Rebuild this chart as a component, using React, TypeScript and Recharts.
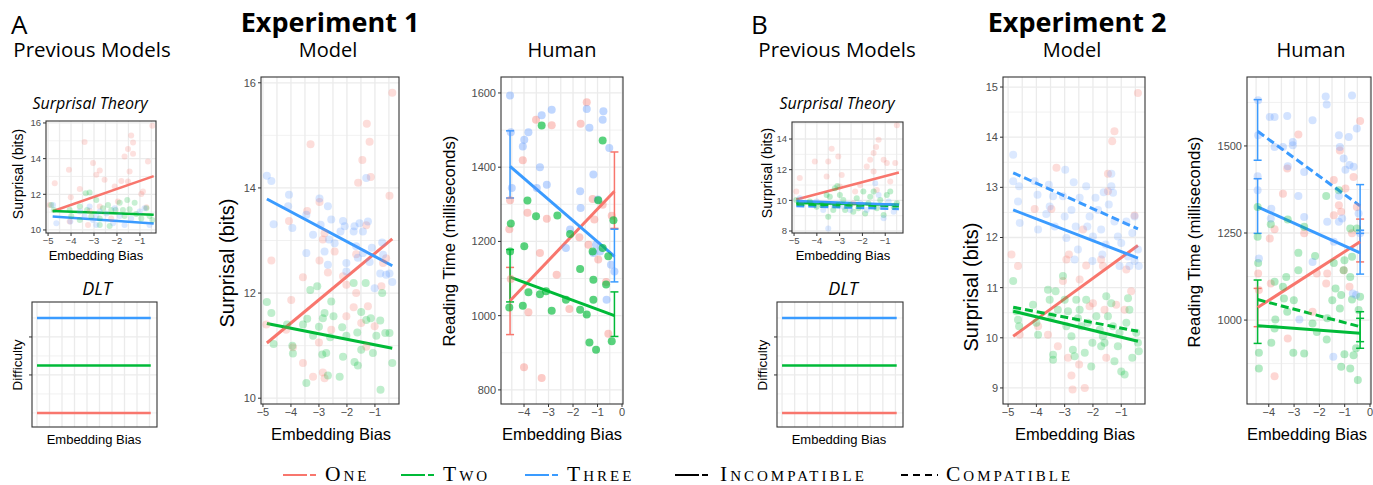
import React from 'react';
import { ComposedChart, Scatter, Line, XAxis, YAxis, CartesianGrid, ErrorBar } from 'recharts';

type Pt = [number, number];
type Bar = [number, number, number]; // x, low, high

const RED = '#F8766D';
const GREEN = '#00BA38';
const BLUE = '#619CFF';
const BLUE_LINE = '#3A9BFF';

// ---------- A: previous models, surprisal theory
const prevAOne: Pt[] = [[-0.46,15.85],[-1.38,15.29],[-1.3,14.91],[-1.52,14.54],[-3.41,14.93],[-1.3,14.27],[-1.67,14.12],[-0.65,13.84],[-4.09,13.37],[-3.04,13.75],[-2.75,13.34],[-2.9,13.09],[-2.54,12.81],[-1.45,13.28],[-4.71,12.62],[-3.62,12.3],[-2.1,12.44],[-1.81,12.75],[-1.52,12.72],[-0.87,12.15],[-0.94,12.02],[-4.01,11.84],[-1.96,11.59],[-2.75,11.31],[-4.93,11.4],[-3.26,10.28],[-2.25,10.65],[-4.06,10.47],[-3.19,11.08],[-0.72,11.27]];
const prevATwo: Pt[] = [[-4.86,11.4],[-4.75,11.12],[-4.06,11.12],[-3.99,10.78],[-3.36,12.06],[-3.19,12.1],[-3.3,11.12],[-3.12,10.75],[-2.9,11.68],[-2.75,10.65],[-2.61,11.22],[-2.32,10.22],[-2.39,11.4],[-2.25,11.12],[-2.06,11.12],[-1.88,11.53],[-1.74,11.12],[-1.67,10.78],[-1.55,11.68],[-1.45,11.16],[-1.23,11.53],[-1.16,10.9],[-0.94,10.65],[-0.72,11.22],[-0.58,10.78],[-0.46,10.56],[-3.62,11.31],[-2.75,10.28],[-3.62,10.56]];
const prevAThree: Pt[] = [[-4.78,11.4],[-4.64,10.37],[-4.03,10.47],[-3.62,11.03],[-3.41,10.75],[-3.19,11.31],[-3.04,10.56],[-2.9,10.28],[-2.75,11.03],[-2.46,10.93],[-2.17,10.37],[-1.88,10.78],[-1.67,10.28],[-1.38,10.65],[-1.01,11.03],[-0.8,11.22],[-0.58,10.28],[-2.9,10.78],[-2.1,11.22]];
const prevAFitOne: Pt[] = [[-4.8,11.05],[-0.4,13.02]];
const prevAFitTwo: Pt[] = [[-4.8,11.07],[-0.4,10.86]];
const prevAFitThree: Pt[] = [[-4.8,10.76],[-0.4,10.36]];

// ---------- B: previous models, surprisal theory
const prevBOne: Pt[] = [[-0.49,14.9],[-1.29,13.96],[-1.4,13.48],[-1.51,13.08],[-1.66,12.65],[-3.35,13.37],[-1.51,11.88],[-4.09,12.54],[-3.5,12.54],[-3.06,12.86],[-4.75,11.45],[-2.91,11.66],[-1.81,12.21],[-1.07,12.65],[-0.93,12.43],[-0.56,12.43],[-0.78,11.23],[-4.9,10.57],[-2.32,10.57],[-2.1,11.0],[-1.37,10.68],[-2.99,10.9],[-3.57,11.55],[-2.4,9.81]];
const prevBTwo: Pt[] = [[-4.9,10.03],[-4.31,9.92],[-4.01,9.59],[-3.57,10.35],[-3.43,10.24],[-3.21,10.79],[-3.1,10.94],[-2.99,10.35],[-3.28,9.37],[-3.5,8.93],[-2.84,10.03],[-2.76,9.37],[-2.54,9.7],[-2.25,10.14],[-2.18,9.48],[-1.96,10.57],[-1.88,9.15],[-1.74,9.81],[-1.66,10.24],[-1.51,10.57],[-1.37,9.48],[-1.22,10.03],[-1.07,9.04],[-0.93,10.35],[-0.78,10.57],[-0.63,9.59],[-0.49,9.81],[-2.4,9.26],[-3.06,9.7],[-3.79,9.7]];
const prevBThree: Pt[] = [[-4.75,10.14],[-4.68,9.81],[-4.01,9.92],[-3.5,8.17],[-3.28,9.7],[-2.84,9.59],[-2.54,9.37],[-2.1,9.81],[-1.81,9.37],[-1.44,11.12],[-1.29,10.35],[-1.15,9.59],[-0.85,9.92],[-0.63,9.26],[-1.07,8.83],[-3.72,9.37]];
const prevBFitOne: Pt[] = [[-4.9,10.05],[-0.4,11.82]];
const prevBFitTwo: Pt[] = [[-4.9,9.82],[-0.4,9.72]];
const prevBFitTwoC: Pt[] = [[-4.9,9.74],[-0.4,9.62]];
const prevBFitThree: Pt[] = [[-4.9,9.95],[-0.4,9.72]];
const prevBFitThreeC: Pt[] = [[-4.9,9.63],[-0.4,9.44]];

// ---------- DLT (difficulty levels)
const dltOne: Pt[] = [[-5,0],[-0.45,0]];
const dltTwo: Pt[] = [[-5,2.5],[-0.45,2.5]];
const dltThree: Pt[] = [[-5,5],[-0.45,5]];

// ---------- Experiment 1, model
const e1mOne: Pt[] = [[-0.38,15.81],[-1.29,15.22],[-1.19,14.88],[-3.3,14.83],[-1.45,14.53],[-1.15,14.21],[-1.6,14.1],[-0.48,13.85],[-3.42,13.56],[-4.07,13.37],[-2.98,13.73],[-1.31,13.29],[-2.86,13.02],[-2.8,13.14],[-2.44,12.79],[-4.7,12.62],[-2.68,12.39],[-3.57,12.3],[-1.67,12.74],[-0.6,12.66],[-0.71,12.57],[-2.98,12.62],[-2.14,12.32],[-3.99,11.87],[-1.76,11.73],[-1.25,11.75],[-2.02,12.16],[-0.77,12.13],[-1.67,12.0],[-2.02,11.56],[-4.88,11.4],[-4.17,11.3],[-1.49,11.43],[-2.56,11.3],[-1.01,11.37],[-3.93,10.97],[-3.0,11.06],[-1.31,10.98],[-3.57,10.67],[-2.86,10.49],[-3.21,10.41],[-2.8,10.38]];
const e1mTwo: Pt[] = [[-4.86,11.83],[-4.7,11.62],[-4.62,11.03],[-4.14,11.4],[-3.95,11.0],[-3.93,10.85],[-3.45,10.29],[-3.42,11.51],[-3.31,12.06],[-3.57,11.4],[-3.06,12.13],[-3.0,11.36],[-3.21,11.19],[-2.86,11.52],[-2.8,11.62],[-2.88,10.83],[-2.74,10.86],[-2.68,10.43],[-2.6,11.16],[-2.56,11.84],[-2.48,11.56],[-2.26,10.41],[-2.17,11.35],[-2.02,11.19],[-1.76,12.19],[-1.73,10.69],[-1.61,10.62],[-1.63,11.25],[-1.49,10.92],[-1.33,12.19],[-1.49,11.64],[-1.31,11.49],[-1.15,11.52],[-1.07,10.86],[-0.95,11.19],[-0.81,11.48],[-0.74,12.0],[-0.8,10.16],[-0.63,11.24],[-0.48,11.24],[-0.38,10.67],[-2.14,10.79]];
const e1mThree: Pt[] = [[-4.86,14.23],[-4.7,14.13],[-4.62,13.31],[-4.07,13.87],[-4.1,13.65],[-3.95,13.24],[-3.45,13.49],[-3.45,12.76],[-3.21,13.11],[-2.98,13.8],[-2.94,13.3],[-2.68,13.65],[-2.8,12.79],[-2.64,13.02],[-2.56,13.4],[-2.44,12.95],[-2.68,12.54],[-2.23,13.17],[-2.14,13.37],[-2.08,13.27],[-2.02,12.57],[-2.02,12.41],[-1.76,13.17],[-1.73,13.27],[-1.67,12.89],[-1.61,12.67],[-1.55,13.33],[-1.43,13.17],[-1.43,12.76],[-1.31,14.19],[-1.25,13.36],[-1.19,12.59],[-1.11,12.86],[-1.01,12.09],[-0.81,12.37],[-0.74,12.96],[-0.6,12.35],[-0.48,12.37],[-0.38,12.21],[-0.71,12.73]];
const e1mFitOne: Pt[] = [[-4.86,11.05],[-0.38,13.03]];
const e1mFitTwo: Pt[] = [[-4.86,11.42],[-0.38,10.95]];
const e1mFitThree: Pt[] = [[-4.86,13.79],[-0.38,12.52]];

// ---------- Experiment 1, human
const e1hOne: Pt[] = [[-4.6,1233],[-4.57,1311],[-4.54,1099],[-4.05,1419],[-3.86,1277],[-4.0,861],[-3.82,1009],[-3.51,1528],[-3.35,1169],[-3.28,832],[-3.07,1261],[-2.87,1513],[-2.67,1110],[-2.15,1018],[-1.74,1211],[-1.69,1517],[-1.44,1575],[-1.37,1191],[-1.2,1314],[-1.13,1259],[-0.97,1151],[-0.79,1299],[-0.65,1091],[-0.56,951],[-0.42,1269]];
const e1hTwo: Pt[] = [[-4.54,1248],[-4.57,1173],[-4.6,1022],[-4.05,1027],[-3.99,1187],[-3.86,1310],[-3.82,1063],[-3.51,1268],[-3.35,1058],[-3.28,1512],[-3.1,1066],[-2.87,1013],[-2.64,1270],[-2.29,1043],[-2.12,1220],[-1.71,1126],[-1.71,1016],[-1.44,1003],[-1.33,928],[-1.2,1173],[-1.17,1097],[-1.17,1043],[-1.06,908],[-0.97,1311],[-0.79,1472],[-0.79,1182],[-0.56,1160],[-0.65,1084],[-0.42,931],[-0.35,1257]];
const e1hThree: Pt[] = [[-4.57,1593],[-4.54,1494],[-4.5,1344],[-4.05,1456],[-3.99,1474],[-3.82,1494],[-3.35,1400],[-3.28,1540],[-2.87,1555],[-3.07,1353],[-3.48,1344],[-2.12,1232],[-2.29,1182],[-1.71,1335],[-1.69,1290],[-1.44,1557],[-1.33,1506],[-1.17,1380],[-1.17,1169],[-0.99,1313],[-1.06,1191],[-0.76,1551],[-0.79,1528],[-0.52,1452],[-0.63,1043],[-0.45,1137],[-0.31,1119],[-0.9,1173]];
const e1hFitOne: Pt[] = [[-4.57,1040],[-0.31,1335]];
const e1hFitTwo: Pt[] = [[-4.57,1104],[-0.31,1000]];
const e1hFitThree: Pt[] = [[-4.57,1402],[-0.31,1160]];
const e1hBarsOne: Bar[] = [[-4.57,949,1130],[-0.31,1235,1441]];
const e1hBarsTwo: Bar[] = [[-4.57,1037,1178],[-0.31,944,1064]];
const e1hBarsThree: Bar[] = [[-4.57,1317,1498],[-0.31,1091,1233]];

// ---------- Experiment 2, model
const e2mOne: Pt[] = [[-0.41,14.88],[-1.24,14.12],[-1.32,13.92],[-3.29,13.39],[-1.47,13.27],[-4.06,12.57],[-3.47,12.57],[-0.53,12.44],[-1.47,12.92],[-2.35,12.16],[-2.85,11.66],[-2.94,11.56],[-2.24,11.44],[-1.71,11.56],[-1.65,11.43],[-0.82,11.36],[-4.65,11.43],[-2.47,11.16],[-0.65,10.93],[-3.06,11.13],[-3.59,10.06],[-3.94,10.23],[-1.18,10.66],[-1.59,10.56],[-2.12,10.63],[-2.0,10.69],[-3.24,9.83],[-2.88,9.6],[-2.49,9.47],[-2.76,9.25],[-2.72,8.97],[-2.29,9.0],[-1.53,9.6],[-0.88,10.56],[-4.88,11.66],[-4.59,10.06]];
const e2mTwo: Pt[] = [[-4.82,11.13],[-4.71,10.53],[-4.65,10.36],[-4.61,10.23],[-4.12,10.66],[-4.0,10.3],[-3.94,10.06],[-3.59,10.96],[-3.53,10.76],[-3.47,10.43],[-3.41,9.66],[-3.41,9.56],[-3.32,10.93],[-3.24,10.56],[-3.06,11.23],[-3.0,10.76],[-2.94,10.23],[-2.88,10.53],[-2.76,10.03],[-2.71,9.76],[-2.65,9.63],[-2.59,10.76],[-2.53,10.39],[-2.47,10.56],[-2.29,9.7],[-2.24,10.76],[-2.18,10.3],[-2.06,9.43],[-2.02,9.9],[-1.88,10.43],[-1.76,10.16],[-1.71,9.83],[-1.65,10.03],[-1.59,9.9],[-1.53,10.83],[-1.47,10.43],[-1.35,10.69],[-1.29,10.23],[-1.24,9.53],[-1.12,9.83],[-1.06,10.1],[-1.0,9.33],[-0.88,9.27],[-0.82,10.3],[-0.76,10.79],[-0.71,10.56],[-0.61,9.6],[-0.47,10.1],[-0.41,9.9],[-0.38,9.73],[-2.41,10.23]];
const e2mThree: Pt[] = [[-4.82,13.65],[-4.82,13.12],[-4.65,12.72],[-4.59,12.29],[-4.61,13.02],[-4.06,13.12],[-3.96,12.85],[-3.94,12.16],[-3.56,13.05],[-3.65,12.47],[-3.41,12.82],[-3.35,12.22],[-2.98,13.35],[-3.06,12.82],[-3.0,12.42],[-2.94,11.99],[-2.76,12.55],[-2.68,13.1],[-2.61,12.22],[-2.53,11.76],[-2.65,11.56],[-2.47,12.79],[-2.24,13.02],[-2.2,12.22],[-2.12,12.42],[-2.02,11.53],[-2.0,12.02],[-1.91,12.79],[-1.82,12.55],[-1.71,12.16],[-1.67,11.66],[-1.55,11.86],[-1.44,12.66],[-1.35,13.27],[-1.35,13.02],[-1.29,12.89],[-1.24,12.32],[-1.12,12.02],[-1.06,11.43],[-1.0,11.89],[-0.82,12.32],[-0.76,11.62],[-0.61,12.09],[-0.53,11.53],[-0.41,11.76],[-0.38,11.43],[-0.53,12.42],[-0.71,11.43],[-1.62,12.9],[-3.53,12.62]];
const e2mFitOne: Pt[] = [[-4.82,10.03],[-0.41,11.84]];
const e2mFitTwo: Pt[] = [[-4.82,10.53],[-0.41,9.93]];
const e2mFitTwoC: Pt[] = [[-4.82,10.61],[-0.41,10.13]];
const e2mFitThree: Pt[] = [[-4.82,12.55],[-0.41,11.59]];
const e2mFitThreeC: Pt[] = [[-4.82,13.29],[-0.41,12.17]];

// ---------- Experiment 2, human
const e2hOne: Pt[] = [[-4.42,1134],[-4.39,1086],[-3.96,1234],[-3.92,1105],[-3.77,1261],[-3.77,839],[-3.44,1363],[-3.27,1435],[-3.25,947],[-2.83,1533],[-2.6,1249],[-2.27,1024],[-2.1,1134],[-1.73,1105],[-1.69,1134],[-1.43,1402],[-1.43,1301],[-1.23,1330],[-1.19,1487],[-1.14,1311],[-1.04,1143],[-0.97,1378],[-0.81,1096],[-0.71,1249],[-0.65,1411],[-0.52,1325],[-0.39,1572]];
const e2hTwo: Pt[] = [[-4.44,1325],[-4.44,1239],[-4.42,1164],[-4.39,906],[-4.39,861],[-3.92,1275],[-3.9,935],[-3.77,1110],[-3.74,1002],[-3.77,976],[-3.44,1096],[-3.4,1062],[-3.31,1124],[-3.25,1289],[-3.27,1024],[-3.01,1057],[-3.03,906],[-2.83,1143],[-2.83,1193],[-2.6,904],[-2.6,1268],[-2.27,990],[-2.17,1184],[-2.1,966],[-1.73,1356],[-1.71,944],[-1.69,1005],[-1.49,1057],[-1.43,1164],[-1.36,1091],[-1.23,1373],[-1.19,1033],[-1.14,1072],[-1.14,866],[-1.04,1143],[-1.01,902],[-1.01,1172],[-0.78,1124],[-0.78,1263],[-0.71,1059],[-0.78,861],[-0.71,1182],[-0.65,899],[-0.55,919],[-0.48,828],[-0.39,1067],[-0.45,1029],[-0.52,1263]];
const e2hThree: Pt[] = [[-4.42,1631],[-4.42,1531],[-4.44,1413],[-4.44,1373],[-4.39,1177],[-3.96,1583],[-3.77,1583],[-3.77,1497],[-3.9,1320],[-3.92,1292],[-3.44,1497],[-3.27,1586],[-3.25,1442],[-3.05,1502],[-3.05,1511],[-2.83,1356],[-2.79,1002],[-2.6,1296],[-2.6,1425],[-2.27,1574],[-2.27,1167],[-1.75,1642],[-1.71,1619],[-1.69,1282],[-1.45,895],[-1.23,1531],[-1.19,1497],[-1.23,1356],[-1.23,1282],[-1.1,1292],[-1.04,1464],[-0.97,1432],[-0.84,1526],[-0.81,1445],[-0.71,1645],[-0.65,1440],[-0.68,1076],[-0.55,1072],[-0.52,1550],[-0.45,1306],[-0.39,1249],[-1.43,1225]];
const e2hFitOne: Pt[] = [[-4.44,1036],[-0.39,1225]];
const e2hFitTwo: Pt[] = [[-4.44,984],[-0.39,962]];
const e2hFitTwoC: Pt[] = [[-4.44,1059],[-0.39,981]];
const e2hFitThree: Pt[] = [[-4.44,1325],[-0.39,1193]];
const e2hFitThreeC: Pt[] = [[-4.44,1542],[-0.39,1328]];
const e2hBarsOne: Bar[] = [[-4.44,981,1091],[-0.39,1167,1290]];
const e2hBarsTwo: Bar[] = [[-4.44,933,1115],[-0.39,919,1024],[-0.39,938,1005]];
const e2hBarsThree: Bar[] = [[-4.44,1459,1633],[-4.44,1249,1406],[-0.39,1132,1389],[-0.39,1249,1258]];

// ---------- axis ticks / grid values
const ticksM5toM1 = [-5, -4, -3, -2, -1];
const ticksM4to0 = [-4, -3, -2, -1, 0];
const halfSteps = [-5, -4.5, -4, -3.5, -3, -2.5, -2, -1.5, -1, -0.5, 0];

const legendItems = [
  { label: 'One', color: RED, dashed: false },
  { label: 'Two', color: GREEN, dashed: false },
  { label: 'Three', color: BLUE_LINE, dashed: false },
  { label: 'Incompatible', color: '#000', dashed: false },
  { label: 'Compatible', color: '#000', dashed: true },
];

const fmt = (v: number) => (v < 0 ? '\u2212' + Math.abs(v) : String(v));
const toObj = (p: Pt[]) => p.map(([x, y]) => ({ x, y }));
const toBars = (b: Bar[]) => b.map(([x, lo, hi]) => ({ x, y: (lo + hi) / 2, err: [(hi - lo) / 2, (hi - lo) / 2] }));

interface Series { pts: Pt[]; color: string; op: number }
interface Fit { pts: Pt[]; color: string; dash?: boolean }
interface Bars { pts: Bar[]; color: string }
interface PanelProps {
  x: number; y: number; w: number; h: number;
  xDomain: [number, number]; yDomain: [number, number];
  xTicks: number[]; yTicks: number[]; yMinor: number[];
  series: Series[]; fits: Fit[]; bars?: Bars[];
  fs: number; r: number; lw: number; noLabels?: boolean;
}

const scalePx = (axis: any, v: number, start: number, size: number, d: [number, number], invert: boolean) => {
  const s = axis && axis.scale;
  if (typeof s === 'function') return s(v);
  if (s && typeof s.map === 'function') return s.map(v);
  const t = (v - d[0]) / (d[1] - d[0]);
  return invert ? start + size * (1 - t) : start + size * t;
};

function Panel(p: PanelProps) {
  const PAD = 8, YW = 40, XH = 24;
  const W = p.w + YW + PAD;
  const H = p.h + PAD + XH;
  const xGrid = halfSteps.filter(v => v > p.xDomain[0] && v < p.xDomain[1]);
  const yMajor = p.yTicks.filter(v => v > p.yDomain[0] && v < p.yDomain[1]);
  const tick = { fontSize: p.fs, fill: '#4D4D4D', fontFamily: 'Liberation Sans, Arial, sans-serif' };
  const vGen = ({ xAxis, offset }: any) =>
    xGrid.map(v => scalePx(xAxis, v, offset.left, offset.width, p.xDomain, false));
  const hGen = (vals: number[]) => ({ yAxis, offset }: any) =>
    vals.map(v => scalePx(yAxis, v, offset.top, offset.height, p.yDomain, true));
  return (
    <div style={{ position: 'absolute', left: p.x - YW, top: p.y - PAD, width: W, height: H }}>
      <ComposedChart width={W} height={H} margin={{ top: PAD, right: PAD, bottom: 0, left: 0 }}>
        <CartesianGrid stroke="#EBEBEB" strokeWidth={0.7} vertical={false} horizontalCoordinatesGenerator={hGen(p.yMinor)} />
        <CartesianGrid stroke="#EBEBEB" strokeWidth={1.3} verticalCoordinatesGenerator={vGen} horizontalCoordinatesGenerator={hGen(yMajor)} />
        <XAxis type="number" dataKey="x" domain={p.xDomain} allowDataOverflow ticks={p.noLabels ? [] : p.xTicks}
          interval={0} height={XH} axisLine={false} tickSize={p.noLabels ? 0 : 3} tickMargin={1}
          tickLine={{ stroke: '#333' }} tick={p.noLabels ? false : tick} tickFormatter={fmt} />
        <YAxis type="number" dataKey="y" domain={p.yDomain} allowDataOverflow ticks={p.yTicks}
          interval={0} width={YW} axisLine={false} tickSize={3} tickMargin={2}
          tickLine={{ stroke: '#333' }} tick={tick} tickFormatter={p.noLabels ? () => '' : fmt} />
        {p.series.map((s, i) => (
          <Scatter key={'s' + i} data={toObj(s.pts)} isAnimationActive={false}
            shape={(q: any) => <circle cx={q.cx} cy={q.cy} r={p.r} fill={s.color} fillOpacity={s.op} />} />
        ))}
        {(p.bars || []).map((b, i) => (
          <Scatter key={'b' + i} data={toBars(b.pts)} isAnimationActive={false} shape={() => <g />}>
            <ErrorBar dataKey="err" direction="y" width={4} stroke={b.color} strokeWidth={1.5} />
          </Scatter>
        ))}
        {p.fits.map((f, i) => (
          <Line key={'f' + i} data={toObj(f.pts)} dataKey="y" type="linear" stroke={f.color} strokeWidth={p.lw}
            strokeDasharray={f.dash ? '8 4' : undefined} dot={false} activeDot={false} isAnimationActive={false} />
        ))}
      </ComposedChart>
    </div>
  );
}

// plot boxes (page pixels)
const boxes = {
  prevA: { x: 46, y: 121, w: 110, h: 112 },
  dltA: { x: 32, y: 302, w: 125, h: 125 },
  e1m: { x: 261, y: 77, w: 138, h: 327 },
  e1h: { x: 501, y: 77, w: 122, h: 327 },
  prevB: { x: 792, y: 122, w: 111, h: 111 },
  dltB: { x: 777, y: 302, w: 126, h: 125 },
  e2m: { x: 1003, y: 77, w: 142, h: 327 },
  e2h: { x: 1247, y: 77, w: 124, h: 327 },
};

const SANS = 'Open Sans, Lato, sans-serif';
const ARIAL = 'Liberation Sans, Arial, sans-serif';

function Overlay() {
  const frames = Object.values(boxes);
  const xTitles = [
    { x: 331, y: 440, s: 16.5 }, { x: 562, y: 440, s: 16.5 }, { x: 1075, y: 440, s: 16.5 }, { x: 1307, y: 440, s: 16.5 },
    { x: 96, y: 260, s: 13 }, { x: 843, y: 260, s: 13 }, { x: 94, y: 444, s: 13 }, { x: 839, y: 444, s: 13 },
  ];
  const yTitles = [
    { x: 234, y: 263, s: 20, t: 'Surprisal (bits)' }, { x: 455, y: 241, s: 16.8, t: 'Reading Time (milliseconds)' },
    { x: 978, y: 287, s: 20, t: 'Surprisal (bits)' }, { x: 1200, y: 242, s: 16.8, t: 'Reading Time (milliseconds)' },
    { x: 23, y: 174, s: 14, t: 'Surprisal (bits)' }, { x: 772, y: 173, s: 14, t: 'Surprisal (bits)' },
    { x: 22, y: 365, s: 13.5, t: 'Difficulty' }, { x: 767, y: 365, s: 13.5, t: 'Difficulty' },
  ];
  return (
    <svg width={1373} height={485} style={{ position: 'absolute', left: 0, top: 0, pointerEvents: 'none' }}>
      {frames.map((b, i) => (
        <rect key={i} x={b.x} y={b.y} width={b.w} height={b.h} fill="none" stroke="#333" strokeWidth={1.1} />
      ))}
      <g fontFamily={SANS} fill="#000">
        <text x={11} y={34} fontSize={26}>A</text>
        <text x={751} y={34} fontSize={26}>B</text>
        <text x={330} y={32} fontSize={27} fontWeight={700} textAnchor="middle">Experiment 1</text>
        <text x={1077} y={32} fontSize={27} fontWeight={700} textAnchor="middle">Experiment 2</text>
        <text x={92} y={57} fontSize={20.5} textAnchor="middle">Previous Models</text>
        <text x={837} y={57} fontSize={20.5} textAnchor="middle">Previous Models</text>
        <text x={328} y={57} fontSize={20} textAnchor="middle">Model</text>
        <text x={562} y={57} fontSize={20} textAnchor="middle">Human</text>
        <text x={1072} y={57} fontSize={20} textAnchor="middle">Model</text>
        <text x={1311} y={57} fontSize={20} textAnchor="middle">Human</text>
        <text x={90} y={109} fontSize={16} fontStyle="italic" textAnchor="middle">Surprisal Theory</text>
        <text x={837} y={109} fontSize={16} fontStyle="italic" textAnchor="middle">Surprisal Theory</text>
        <text x={97} y={295} fontSize={18} fontStyle="italic" textAnchor="middle">DLT</text>
        <text x={843} y={295} fontSize={18} fontStyle="italic" textAnchor="middle">DLT</text>
      </g>
      <g fontFamily={ARIAL} fill="#000">
        {xTitles.map((t, i) => (
          <text key={i} x={t.x} y={t.y} fontSize={t.s} textAnchor="middle">Embedding Bias</text>
        ))}
        {yTitles.map((t, i) => (
          <text key={i} x={t.x} y={t.y} fontSize={t.s} textAnchor="middle" transform={`rotate(-90 ${t.x} ${t.y})`}>{t.t}</text>
        ))}
      </g>
    </svg>
  );
}

// shared legend (HTML so the small caps are laid out by the browser)
const legendPos = [
  { k: 283, t: 325 }, { k: 401, t: 443 }, { k: 525, t: 567 },
  { k: 675, t: 720 }, { k: 901, t: 946 },
];

function SharedLegend() {
  return (
    <div style={{ position: 'absolute', left: 0, top: 462, width: 1373, height: 23 }}>
      {legendItems.map((it, i) => {
        const p = legendPos[i];
        return (
          <React.Fragment key={it.label}>
            <svg width={40} height={6} style={{ position: 'absolute', left: p.k, top: 10 }}>
              {it.dashed ? (
                <line x1={0} y1={3} x2={37} y2={3} stroke={it.color} strokeWidth={2} strokeDasharray="7 5" />
              ) : (
                <>
                  <line x1={0} y1={3} x2={24} y2={3} stroke={it.color} strokeWidth={2} />
                  <line x1={27} y1={3} x2={33} y2={3} stroke={it.color} strokeWidth={2} />
                </>
              )}
            </svg>
            <span style={{
              position: 'absolute', left: p.t, top: 1, fontFamily: 'Liberation Serif, serif', fontSize: 21.5,
              lineHeight: '22px', letterSpacing: 3, fontVariant: 'small-caps', whiteSpace: 'nowrap', color: '#000',
            }}>{it.label}</span>
          </React.Fragment>
        );
      })}
    </div>
  );
}

export default function App() {
  return (
    <div style={{ position: 'absolute', left: 0, top: 0, width: 1373, height: 485, background: '#fff', overflow: 'hidden' }}>
      <Panel {...boxes.prevA} xDomain={[-5.09, -0.3]} yDomain={[9.83, 16.11]} xTicks={ticksM5toM1}
        yTicks={[10, 12, 14, 16]} yMinor={[11, 13, 15]} fs={9.5} r={3} lw={2.5}
        series={[{ pts: prevAOne, color: RED, op: 0.22 }, { pts: prevATwo, color: GREEN, op: 0.22 }, { pts: prevAThree, color: BLUE, op: 0.22 }]}
        fits={[{ pts: prevAFitOne, color: RED }, { pts: prevAFitThree, color: BLUE_LINE }, { pts: prevAFitTwo, color: GREEN }]} />
      <Panel {...boxes.dltA} xDomain={[-5.2, -0.2]} yDomain={[-0.74, 5.84]} xTicks={[]}
        yTicks={[2, 4]} yMinor={[0, 1, 3, 5]} fs={9} r={3} lw={2.5} noLabels series={[]}
        fits={[{ pts: dltOne, color: RED }, { pts: dltTwo, color: GREEN }, { pts: dltThree, color: BLUE_LINE }]} />
      <Panel {...boxes.e1m} xDomain={[-5.07, -0.14]} yDomain={[9.89, 16.11]} xTicks={ticksM5toM1}
        yTicks={[10, 12, 14, 16]} yMinor={[11, 13, 15]} fs={11} r={4} lw={3}
        series={[{ pts: e1mOne, color: RED, op: 0.25 }, { pts: e1mTwo, color: GREEN, op: 0.25 }, { pts: e1mThree, color: BLUE, op: 0.25 }]}
        fits={[{ pts: e1mFitOne, color: RED }, { pts: e1mFitTwo, color: GREEN }, { pts: e1mFitThree, color: BLUE_LINE }]} />
      <Panel {...boxes.e1h} xDomain={[-4.94, 0.04]} yDomain={[762, 1643]} xTicks={ticksM4to0}
        yTicks={[800, 1000, 1200, 1400, 1600]} yMinor={[900, 1100, 1300, 1500]} fs={11} r={4} lw={3}
        series={[{ pts: e1hOne, color: RED, op: 0.38 }, { pts: e1hThree, color: BLUE, op: 0.4 }, { pts: e1hTwo, color: GREEN, op: 0.65 }]}
        fits={[{ pts: e1hFitOne, color: RED }, { pts: e1hFitTwo, color: GREEN }, { pts: e1hFitThree, color: BLUE_LINE }]}
        bars={[{ pts: e1hBarsOne, color: RED }, { pts: e1hBarsTwo, color: GREEN }, { pts: e1hBarsThree, color: BLUE_LINE }]} />
      <Panel {...boxes.prevB} xDomain={[-5.09, -0.22]} yDomain={[7.87, 15.11]} xTicks={ticksM5toM1}
        yTicks={[8, 10, 12, 14]} yMinor={[9, 11, 13, 15]} fs={9.5} r={3} lw={2.5}
        series={[{ pts: prevBOne, color: RED, op: 0.22 }, { pts: prevBTwo, color: GREEN, op: 0.25 }, { pts: prevBThree, color: BLUE, op: 0.22 }]}
        fits={[{ pts: prevBFitOne, color: RED }, { pts: prevBFitThreeC, color: BLUE_LINE, dash: true }, { pts: prevBFitTwoC, color: GREEN, dash: true },
          { pts: prevBFitTwo, color: GREEN }, { pts: prevBFitThree, color: BLUE_LINE }]} />
      <Panel {...boxes.dltB} xDomain={[-5.2, -0.2]} yDomain={[-0.74, 5.84]} xTicks={[]}
        yTicks={[2, 4]} yMinor={[0, 1, 3, 5]} fs={9} r={3} lw={2.5} noLabels series={[]}
        fits={[{ pts: dltOne, color: RED }, { pts: dltTwo, color: GREEN }, { pts: dltThree, color: BLUE_LINE }]} />
      <Panel {...boxes.e2m} xDomain={[-5.18, -0.16]} yDomain={[8.68, 15.2]} xTicks={ticksM5toM1}
        yTicks={[9, 10, 11, 12, 13, 14, 15]} yMinor={[9.5, 10.5, 11.5, 12.5, 13.5, 14.5]} fs={11} r={4} lw={3}
        series={[{ pts: e2mOne, color: RED, op: 0.25 }, { pts: e2mTwo, color: GREEN, op: 0.25 }, { pts: e2mThree, color: BLUE, op: 0.22 }]}
        fits={[{ pts: e2mFitOne, color: RED }, { pts: e2mFitTwo, color: GREEN }, { pts: e2mFitTwoC, color: GREEN, dash: true },
          { pts: e2mFitThree, color: BLUE_LINE }, { pts: e2mFitThreeC, color: BLUE_LINE, dash: true }]} />
      <Panel {...boxes.e2h} xDomain={[-4.86, 0.04]} yDomain={[759, 1698]} xTicks={ticksM4to0}
        yTicks={[1000, 1250, 1500]} yMinor={[875, 1125, 1375, 1625]} fs={11} r={4} lw={3}
        series={[{ pts: e2hOne, color: RED, op: 0.3 }, { pts: e2hTwo, color: GREEN, op: 0.3 }, { pts: e2hThree, color: BLUE, op: 0.28 }]}
        fits={[{ pts: e2hFitOne, color: RED }, { pts: e2hFitTwo, color: GREEN }, { pts: e2hFitTwoC, color: GREEN, dash: true },
          { pts: e2hFitThree, color: BLUE_LINE }, { pts: e2hFitThreeC, color: BLUE_LINE, dash: true }]}
        bars={[{ pts: e2hBarsOne, color: RED }, { pts: e2hBarsTwo, color: GREEN }, { pts: e2hBarsThree, color: BLUE_LINE }]} />
      <Overlay />
      <SharedLegend />
    </div>
  );
}
